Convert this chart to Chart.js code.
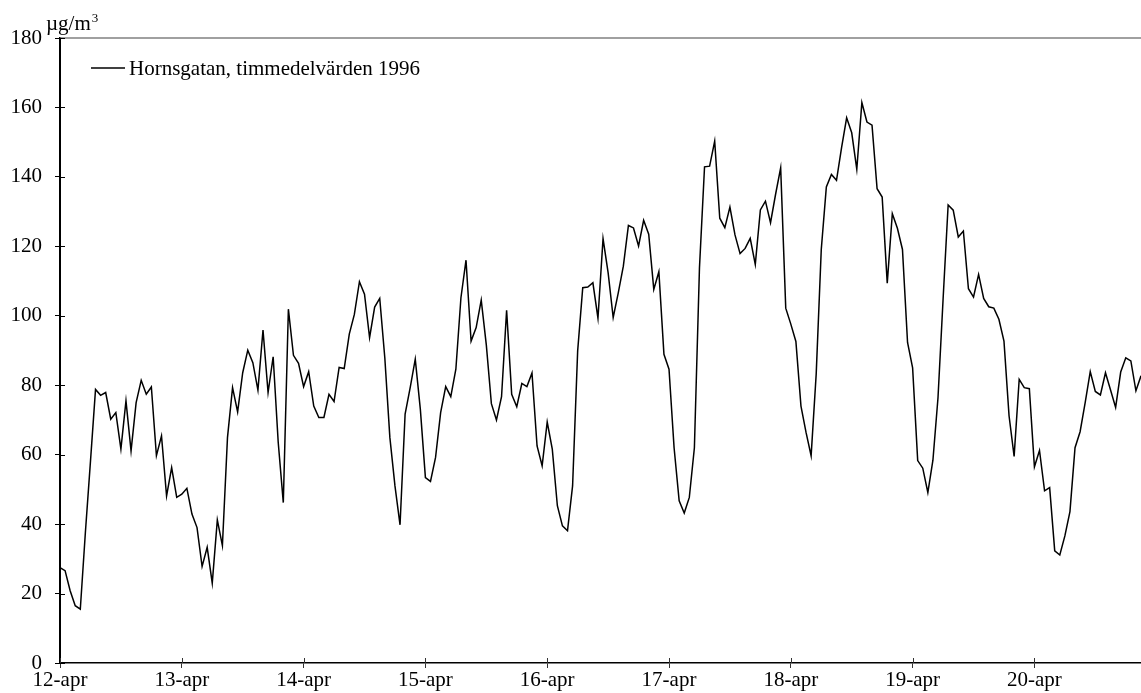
<!DOCTYPE html>
<html lang="sv">
<head>
<meta charset="utf-8">
<title>Hornsgatan, timmedelvärden 1996</title>
<script src="https://cdn.jsdelivr.net/npm/chart.js@4/dist/chart.umd.min.js"></script>
<style>
  html, body {
    margin: 0;
    padding: 0;
    background: #ffffff;
  }
  #chart {
    display: block;
  }
</style>
</head>
<body>
<canvas id="chart" width="1141" height="693"></canvas>
<script>
const dayLabels = ["12-apr", "13-apr", "14-apr", "15-apr", "16-apr", "17-apr", "18-apr", "19-apr", "20-apr"];
const hoursPerDay = 24;
const seriesLabel = "Hornsgatan, timmedelvärden 1996";
const unitLabel = "µg/m";
const unitExponent = "3";
const yTickValues = [0, 20, 40, 60, 80, 100, 120, 140, 160, 180];

const hourlyValues = [
  27.5, 26.6, 20.8, 16.5, 15.5, 37.6, 58.0, 78.8, 77.1, 77.9, 70.2, 72.1,
  61.6, 75.5, 61.1, 75.0, 81.4, 77.4, 79.5, 59.7, 65.4, 48.1, 56.3, 47.7,
  48.6, 50.3, 42.9, 39.0, 27.8, 33.3, 23.0, 41.2, 33.8, 64.9, 79.3, 72.3,
  83.6, 90.1, 86.5, 78.6, 95.9, 77.9, 88.2, 63.5, 46.2, 101.9, 88.6, 86.3,
  79.6, 83.9, 74.0, 70.7, 70.7, 77.4, 75.3, 85.1, 84.8, 94.7, 100.4, 109.8,
  106.2, 93.7, 102.5, 105.0, 87.9, 64.9, 51.0, 39.8, 71.7, 79.3, 87.5, 73.1,
  53.4, 52.3, 59.2, 72.1, 79.6, 76.7, 84.6, 105.2, 116.0, 92.7, 96.6, 104.5,
  91.6, 74.7, 70.0, 76.7, 101.6, 77.4, 73.8, 80.5, 79.6, 83.5, 62.5, 56.8,
  69.4, 61.6, 45.3, 39.5, 38.1, 51.0, 89.9, 108.1, 108.3, 109.5, 99.3, 122.2,
  112.4, 99.5, 106.6, 114.3, 126.0, 125.3, 120.1, 127.5, 123.5, 107.6, 112.7, 88.9,
  84.6, 62.0, 46.7, 43.2, 47.7, 62.0, 113.8, 142.9, 143.1, 150.3, 128.1, 125.4,
  131.3, 123.3, 117.9, 119.4, 122.3, 114.8, 130.5, 133.0, 126.8, 135.0, 142.6, 102.2,
  97.6, 92.6, 74.0, 66.4, 59.7, 83.2, 119.1, 137.1, 140.7, 139.0, 148.4, 157.0,
  152.7, 142.2, 161.4, 155.8, 154.9, 136.6, 134.2, 109.4, 129.4, 125.2, 119.1, 92.3,
  85.0, 58.3, 56.1, 49.1, 58.4, 76.4, 104.7, 131.9, 130.4, 122.7, 124.4, 107.8,
  105.4, 111.9, 105.0, 102.6, 102.2, 99.0, 92.7, 71.2, 59.5, 81.7, 79.3, 79.0,
  56.5, 61.2, 49.6, 50.5, 32.3, 31.1, 36.6, 43.6, 62.0, 66.6, 75.0, 83.9,
  78.2, 77.2, 83.6, 78.6, 73.6, 83.8, 87.9, 87.0, 78.4, 82.7
];

const FONT_FAMILY = '"Liberation Serif", "Times New Roman", serif';

const innerTicksAndLabels = {
  id: "innerTicksAndLabels",
  afterDraw(chart) {
    const { ctx, chartArea, scales } = chart;
    const { left, right, top, bottom } = chartArea;

    ctx.save();

    // plot frame top edge
    ctx.strokeStyle = "#808080";
    ctx.lineWidth = 1.5;
    ctx.beginPath();
    ctx.moveTo(left, top);
    ctx.lineTo(right, top);
    ctx.stroke();

    // tick halves that reach into the plot
    ctx.strokeStyle = "#000000";
    ctx.lineWidth = 1;
    scales.y.ticks.forEach((tick) => {
      const y = Math.round(scales.y.getPixelForValue(tick.value)) + 0.5;
      ctx.beginPath();
      ctx.moveTo(left, y);
      ctx.lineTo(left + 5, y);
      ctx.stroke();
    });
    ctx.strokeStyle = "#333333";
    scales.x.ticks.forEach((tick) => {
      const x = Math.round(scales.x.getPixelForValue(tick.value)) + 0.5;
      ctx.beginPath();
      ctx.moveTo(x, bottom);
      ctx.lineTo(x, bottom - 5);
      ctx.stroke();
    });

    // legend
    ctx.strokeStyle = "#000000";
    ctx.lineWidth = 1.5;
    ctx.beginPath();
    ctx.moveTo(91, 68);
    ctx.lineTo(125, 68);
    ctx.stroke();
    ctx.fillStyle = "#000000";
    ctx.font = `21px ${FONT_FAMILY}`;
    ctx.textBaseline = "alphabetic";
    ctx.textAlign = "left";
    ctx.fillText(seriesLabel, 129, 75);

    // unit
    ctx.fillText(unitLabel, 46, 30);
    const unitWidth = ctx.measureText(unitLabel).width;
    ctx.font = `13px ${FONT_FAMILY}`;
    ctx.fillText(unitExponent, 46 + unitWidth + 1, 22);

    ctx.restore();
  }
};

function buildPoints() {
  return hourlyValues.map((value, index) => ({ x: index, y: value }));
}

function initializeChart() {
  const canvas = document.getElementById("chart");

  return new Chart(canvas, {
    type: "line",
    data: {
      datasets: [
        {
          label: seriesLabel,
          data: buildPoints(),
          borderColor: "#000000",
          borderWidth: 1.5,
          pointRadius: 0,
          tension: 0,
          fill: false
        }
      ]
    },
    options: {
      responsive: false,
      animation: false,
      events: [],
      layout: {
        padding: { top: 38, right: 0, bottom: 0, left: 0 }
      },
      plugins: {
        legend: { display: false },
        tooltip: { enabled: false }
      },
      scales: {
        x: {
          type: "linear",
          min: 0,
          max: hourlyValues.length - 1,
          afterFit(scale) {
            scale.height = 30;
          },
          border: {
            color: "#000000",
            width: 1.5
          },
          grid: {
            drawOnChartArea: false,
            drawTicks: true,
            tickLength: 5,
            tickColor: "#333333"
          },
          ticks: {
            stepSize: hoursPerDay,
            includeBounds: false,
            autoSkip: false,
            maxRotation: 0,
            padding: 0,
            color: "#000000",
            font: { family: FONT_FAMILY, size: 21 },
            callback: (value) => dayLabels[value / hoursPerDay] ?? ""
          }
        },
        y: {
          min: yTickValues[0],
          max: yTickValues[yTickValues.length - 1],
          afterFit(scale) {
            scale.width = 60;
          },
          afterBuildTicks(scale) {
            scale.ticks = yTickValues.map((value) => ({ value }));
          },
          border: {
            color: "#000000",
            width: 2
          },
          grid: {
            drawOnChartArea: false,
            drawTicks: true,
            tickLength: 5,
            tickColor: "#000000"
          },
          ticks: {
            padding: 13,
            color: "#000000",
            font: { family: FONT_FAMILY, size: 21 }
          }
        }
      }
    },
    plugins: [innerTicksAndLabels]
  });
}

document.addEventListener("DOMContentLoaded", () => {
  initializeChart();
});
</script>
</body>
</html>
